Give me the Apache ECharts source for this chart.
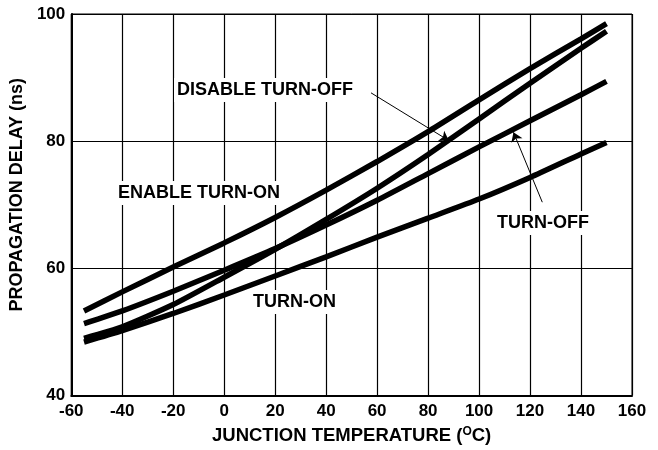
<!DOCTYPE html>
<html>
<head>
<meta charset="utf-8">
<script src="https://cdn.jsdelivr.net/npm/echarts@6/dist/echarts.min.js"></script>
<style>
html,body{margin:0;padding:0;background:#fff;}
#chart{width:658px;height:450px;}
</style>
</head>
<body>
<div id="chart"></div>
<script>
// Junction temperature (°C)
var temps = [-55, -40, -20, 0, 20, 40, 60, 80, 100, 120, 140, 150];
// Propagation delay (ns)
var enableTurnOn   = [53.3, 56.3, 60.2, 64.0, 68.0, 72.3, 76.8, 81.5, 86.5, 91.4, 96.1, 98.5];
var disableTurnOff = [49.0, 50.8, 54.3, 58.6, 63.0, 67.7, 72.6, 77.9, 83.5, 89.1, 94.6, 97.3];
var turnOff        = [51.3, 53.3, 56.4, 59.7, 63.1, 66.8, 70.7, 74.9, 79.1, 83.2, 87.3, 89.4];
var turnOn         = [48.4, 50.2, 52.9, 55.8, 58.8, 61.8, 64.9, 67.9, 70.9, 74.3, 78.0, 79.8];

var xTicks = {min: -60, max: 160, interval: 20};
var yTicks = {min: 40, max: 100, interval: 20};

// annotation arrows (data coordinates): [from, to]
var disableArrow = [[57.6, 87.6], [88.1, 80.1]];
var turnOffArrow = [[124.8, 70.4], [113.5, 81.4]];

function pairs(xs, ys) { return xs.map(function (x, i) { return [x, ys[i]]; }); }

var FONT = '"Liberation Sans", Arial, sans-serif';
var chart = echarts.init(document.getElementById('chart'), null, {renderer: 'canvas'});

function lineSeries(name, ys, extra) {
  var s = {
    name: name,
    type: 'line',
    data: pairs(temps, ys),
    showSymbol: false,
    smooth: 0.2,
    lineStyle: {color: '#000', width: 5.5, cap: 'butt'},
    z: 5,
    silent: true
  };
  if (extra) for (var k in extra) s[k] = extra[k];
  return s;
}

function arrow(a) {
  return [{coord: a[0], symbol: 'none'}, {coord: a[1], symbol: 'arrow'}];
}

var option = {
  animation: false,
  backgroundColor: '#fff',
  grid: {left: 69, right: 26, top: 14, bottom: 53, show: true, borderColor: '#000', borderWidth: 1},
  xAxis: {
    type: 'value', min: xTicks.min, max: xTicks.max, interval: xTicks.interval,
    axisLine: {show: true, onZero: false, lineStyle: {color: '#000', width: 2}},
    axisTick: {show: false},
    splitLine: {show: true, lineStyle: {color: '#000', width: 1.2}},
    axisLabel: {color: '#000', fontFamily: FONT, fontWeight: 'bold', fontSize: 17, margin: 7},
    name: 'JUNCTION TEMPERATURE ({sup|O}C)',
    nameLocation: 'middle', nameGap: 30,
    nameTextStyle: {
      color: '#000', fontFamily: FONT, fontWeight: 'bold', fontSize: 18.5,
      rich: {sup: {fontFamily: FONT, fontWeight: 'bold', fontSize: 12, color: '#000', verticalAlign: 'top', padding: [0, 0, 8, 0]}}
    }
  },
  yAxis: {
    type: 'value', min: yTicks.min, max: yTicks.max, interval: yTicks.interval,
    axisLine: {show: true, onZero: false, lineStyle: {color: '#000', width: 2}},
    axisTick: {show: false},
    splitLine: {show: true, lineStyle: {color: '#000', width: 1.2}},
    axisLabel: {color: '#000', fontFamily: FONT, fontWeight: 'bold', fontSize: 17, margin: 6},
    name: 'PROPAGATION DELAY (ns)',
    nameLocation: 'middle', nameGap: 42,
    nameTextStyle: {color: '#000', fontFamily: FONT, fontWeight: 'bold', fontSize: 18, padding: [0, 0, 0, 20]}
  },
  series: [
    lineSeries('ENABLE TURN-ON', enableTurnOn),
    lineSeries('DISABLE TURN-OFF', disableTurnOff, {
      markLine: {
        silent: true, symbolSize: 9, label: {show: false},
        lineStyle: {color: '#000', width: 1, type: 'solid'},
        data: [arrow(disableArrow), arrow(turnOffArrow)]
      }
    }),
    lineSeries('TURN-OFF', turnOff),
    lineSeries('TURN-ON', turnOn)
  ],
  graphic: [
    {type: 'text', x: 174, y: 90, z: 10, style: {text: 'DISABLE TURN-OFF', font: 'bold 18px ' + FONT, fill: '#000', verticalAlign: 'middle', backgroundColor: '#fff', padding: [3, 3]}},
    {type: 'text', x: 115, y: 193, z: 10, style: {text: 'ENABLE TURN-ON', font: 'bold 18px ' + FONT, fill: '#000', verticalAlign: 'middle', backgroundColor: '#fff', padding: [3, 3]}},
    {type: 'text', x: 250, y: 302, z: 10, style: {text: 'TURN-ON', font: 'bold 18px ' + FONT, fill: '#000', verticalAlign: 'middle', backgroundColor: '#fff', padding: [3, 3]}},
    {type: 'text', x: 494, y: 223, z: 10, style: {text: 'TURN-OFF', font: 'bold 18px ' + FONT, fill: '#000', verticalAlign: 'middle', backgroundColor: '#fff', padding: [3, 3]}}
  ]
};
chart.setOption(option);
</script>
</body>
</html>
